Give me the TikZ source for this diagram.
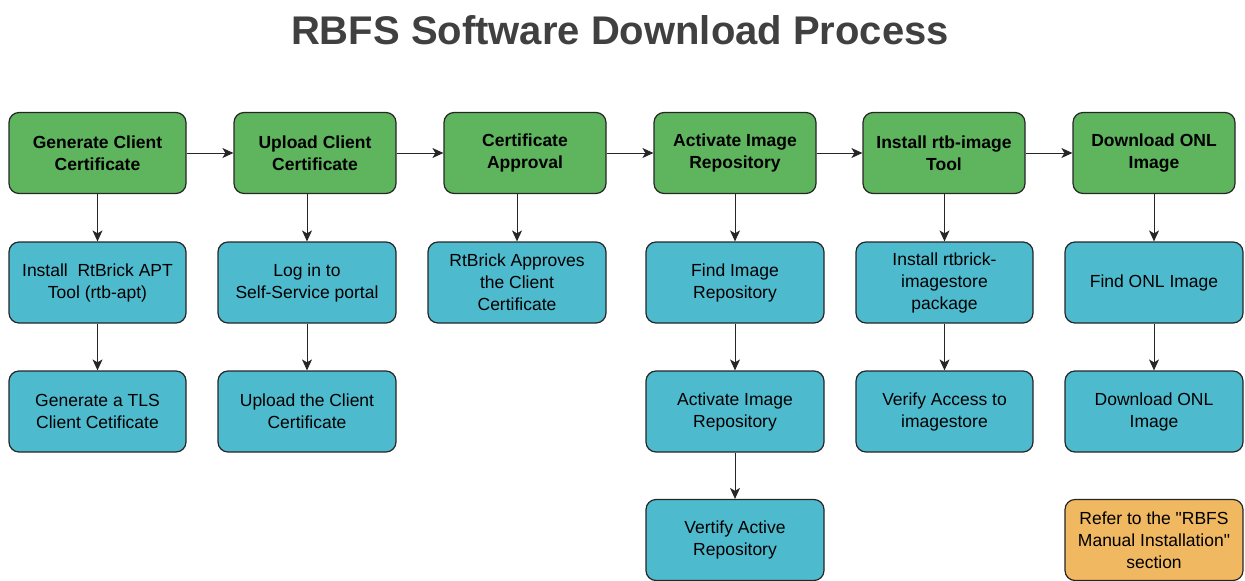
\documentclass[tikz,border=0pt]{standalone}
\usepackage{fontspec}
\setmainfont{Liberation Sans}
\usetikzlibrary{arrows.meta}
\definecolor{stagegreen}{RGB}{94,181,94}
\definecolor{taskblue}{RGB}{78,186,206}
\definecolor{noteorange}{RGB}{240,184,96}
\definecolor{titlegray}{RGB}{64,64,64}
\definecolor{edgegray}{RGB}{38,38,38}
\begin{document}
\begin{tikzpicture}[x=1pt,y=-1pt,
    box/.style={rectangle,rounded corners=10pt,draw=edgegray,line width=1.2pt,
      minimum height=81pt,inner sep=2pt,align=center,
      font=\fontsize{17.5}{22}\selectfont},
    stage/.style={box,fill=stagegreen,minimum width=162pt,font=\fontsize{17.5}{22}\selectfont\bfseries},
    task/.style={box,fill=taskblue,minimum width=178pt},
    note/.style={box,fill=noteorange,minimum width=178pt},
    flow/.style={-{Stealth[length=11pt,width=10pt,inset=3pt]},line width=1pt,draw=edgegray}]
  \useasboundingbox (0,0) rectangle (1245,581);
  \path (620,30) node[font=\fontsize{40}{44}\selectfont\bfseries,text=titlegray] (title) {RBFS Software Download Process};
  % top row
  \path (97.5,153) node[stage,minimum width=177pt] (G1) {Generate Client\\Certificate};
  \path (315,153) node[stage] (G2) {Upload Client\\Certificate};
  \path (525,153) node[stage] (G3) {Certificate\\Approval};
  \path (735,153) node[stage] (G4) {Activate Image\\Repository};
  \path (944,153) node[stage] (G5) {Install rtb-image\\Tool};
  \path (1154,153) node[stage] (G6) {Download ONL\\Image};
  % second row
  \path (97.5,282.5) node[task,minimum width=177pt] (T1) {Install\ \ RtBrick APT\\Tool (rtb-apt)};
  \path (307,282.5) node[task] (T2) {Log in to\\Self-Service portal};
  \path (517,282.5) node[task] (T3) {RtBrick Approves\\the Client\\Certificate};
  \path (735,282.5) node[task] (T4) {Find Image\\Repository};
  \path (944.5,282.5) node[task,minimum width=177pt] (T5) {Install rtbrick-\\imagestore\\package};
  \path (1154,282.5) node[task] (T6) {Find ONL Image};
  % third row
  \path (97.5,411.5) node[task,minimum width=177pt] (U1) {Generate a TLS\\Client Cetificate};
  \path (307,411.5) node[task] (U2) {Upload the Client\\Certificate};
  \path (735,411.5) node[task] (U4) {Activate Image\\Repository};
  \path (944.5,411.5) node[task,minimum width=177pt] (U5) {Verify Access to\\imagestore};
  \path (1154,411.5) node[task] (U6) {Download ONL\\Image};
  % fourth row
  \path (735,540) node[task] (V4) {Vertify Active\\Repository};
  \path (1154,540) node[note] (N6) {Refer to the \textquotedbl RBFS\\Manual Installation\textquotedbl\\section};
  % connectors
  \foreach \a/\b in {G1/G2,G2/G3,G3/G4,G4/G5,G5/G6}
    \draw[flow] (\a) -- (\b);
  \foreach \a/\b in {G1/T1,G2/T2,G3/T3,G4/T4,G5/T5,G6/T6,T1/U1,T2/U2,T4/U4,T5/U5,T6/U6,U4/V4}
    \draw[flow] (\a.south -| \b.north) -- (\b.north);
\end{tikzpicture}
\end{document}
